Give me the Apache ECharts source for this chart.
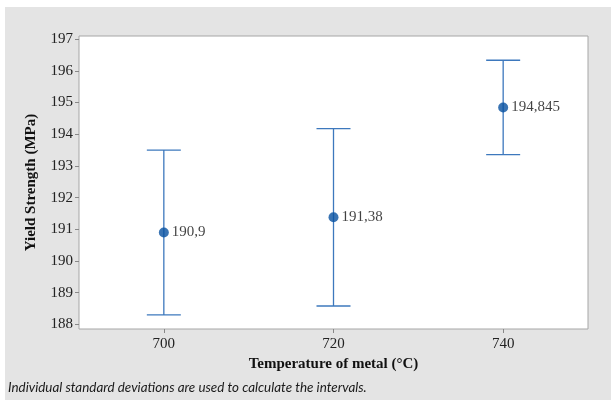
<!DOCTYPE html>
<html>
<head>
<meta charset="utf-8">
<script src="https://cdn.jsdelivr.net/npm/echarts@6/dist/echarts.min.js"></script>
<style>
html,body{margin:0;padding:0;background:#fff;}
#c{width:611px;height:400px;}
</style>
</head>
<body>
<div id="c"></div>
<script>
var temps = [700, 720, 740];
var means = [190.9, 191.38, 194.845];
var lows = [188.3, 188.58, 193.355];
var highs = [193.5, 194.18, 196.335];
var meanLabels = ["190,9", "191,38", "194,845"];
var yTicks = [188, 189, 190, 191, 192, 193, 194, 195, 196, 197];
var xTicks = [700, 720, 740];

var serif = 'Liberation Serif';
var barColor = '#3d78bd';
var dotColor = '#0650a0';

var chart = echarts.init(document.getElementById('c'), null, {renderer: 'canvas'});

var errData = temps.map(function (t, i) { return [t, lows[i], highs[i]]; });
var meanData = temps.map(function (t, i) { return [t, means[i], meanLabels[i]]; });

chart.setOption({
  animation: false,
  textStyle: {fontFamily: serif},
  graphic: [
    {type: 'rect', z: -10, silent: true, shape: {x: 5, y: 7, width: 606, height: 393}, style: {fill: '#e4e4e4'}},
    {type: 'text', left: 8, top: 381, silent: true,
     style: {text: 'Individual standard deviations are used to calculate the intervals.',
             fontFamily: 'Lato', fontStyle: 'italic', fontSize: 13.4, fill: '#1a1a1a'}}
  ],
  grid: {left: 79, right: 23, top: 36, bottom: 71, show: true,
         backgroundColor: '#ffffff', borderColor: '#a6a6a6', borderWidth: 1},
  xAxis: {
    type: 'value', min: 690, max: 750,
    name: 'Temperature of metal (°C)', nameLocation: 'middle', nameGap: 27,
    nameTextStyle: {fontFamily: serif, fontWeight: 'bold', fontSize: 15, color: '#111'},
    axisLine: {show: false},
    splitLine: {show: false},
    axisTick: {show: true, length: 4, lineStyle: {color: '#888'}, customValues: xTicks},
    axisLabel: {fontFamily: serif, fontSize: 15, color: '#222', margin: 8, customValues: xTicks}
  },
  yAxis: {
    type: 'value', min: 187.855, max: 197.1,
    name: 'Yield Strength (MPa)', nameLocation: 'middle', nameGap: 40,
    nameTextStyle: {fontFamily: serif, fontWeight: 'bold', fontSize: 15, color: '#111'},
    axisLine: {show: false},
    splitLine: {show: false},
    axisTick: {show: true, length: 4, lineStyle: {color: '#888'}, customValues: yTicks},
    axisLabel: {fontFamily: serif, fontSize: 15, color: '#222', margin: 6, customValues: yTicks}
  },
  series: [
    {
      type: 'custom',
      data: errData,
      encode: {x: 0, y: [1, 2]},
      renderItem: function (params, api) {
        var x = api.value(0);
        var lo = api.coord([x, api.value(1)]);
        var hi = api.coord([x, api.value(2)]);
        var hw = 17;
        var st = {stroke: barColor, lineWidth: 1.3, fill: null};
        return {
          type: 'group',
          children: [
            {type: 'line', shape: {x1: lo[0], y1: lo[1], x2: hi[0], y2: hi[1]}, style: st},
            {type: 'line', shape: {x1: hi[0] - hw, y1: hi[1], x2: hi[0] + hw, y2: hi[1]}, style: st},
            {type: 'line', shape: {x1: lo[0] - hw, y1: lo[1], x2: lo[0] + hw, y2: lo[1]}, style: st}
          ]
        };
      },
      z: 2
    },
    {
      type: 'scatter',
      data: meanData,
      symbol: 'circle',
      symbolSize: 10,
      itemStyle: {color: dotColor},
      label: {
        show: true, position: 'right', distance: 3,
        formatter: function (p) { return p.value[2]; },
        fontFamily: serif, fontSize: 15, color: '#111'
      },
      z: 3
    }
  ]
});
</script>
</body>
</html>
